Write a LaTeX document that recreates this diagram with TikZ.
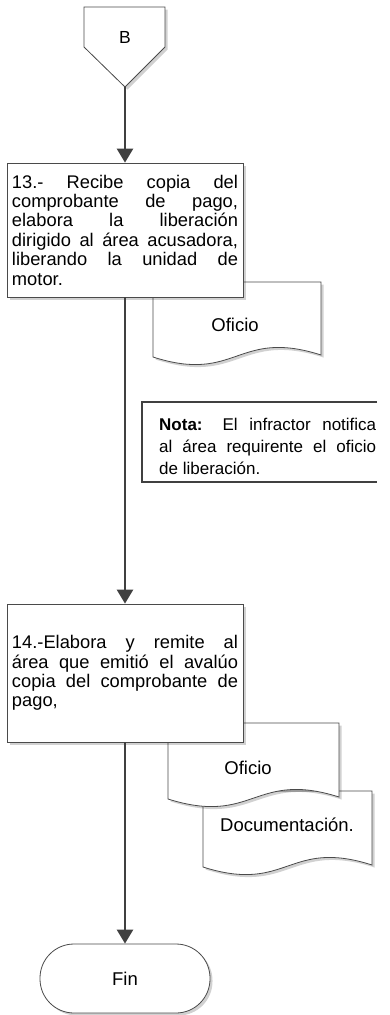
\documentclass[tikz,border=0pt]{standalone}
\usepackage{fontspec}
\setmainfont{Liberation Sans}
\usetikzlibrary{arrows.meta,shadows}
\definecolor{linegray}{HTML}{4A4A4A}
\definecolor{flowgray}{HTML}{404040}
\hyphenpenalty=10000
\exhyphenpenalty=10000
\tolerance=10000
\begin{document}
\begin{tikzpicture}[x=1pt,y=-1pt,
  shp/.style={draw=linegray, line width=0.8pt, fill=white,
    drop shadow={shadow xshift=2.5pt, shadow yshift=-2.5pt, fill=black, opacity=0.18}},
  proc/.style={shp, rectangle, minimum width=236pt, text width=226pt, inner sep=5pt,
    align=justify, font=\fontsize{18.3}{19.4}\selectfont},
  lbl/.style={inner sep=0pt, font=\fontsize{18.5}{20}\selectfont},
  flow/.style={draw=flowgray, line width=2.6pt, -{Triangle[length=14pt,width=16pt]}},
  notebr/.style={draw=flowgray, line width=1.4pt}
]
\useasboundingbox (0,0) rectangle (389,1015);

% off-page connector B
\filldraw[shp] (84,7) -- (165,7) -- (165,47) -- (125,87) -- (84,47) -- cycle;
\node[lbl, font=\fontsize{17.5}{19}\selectfont] (B) at (125,37) {B};
\coordinate (Bpt) at (125,87);

% document Oficio 1 (behind box 13)
\filldraw[shp] (153,282) -- (321,282) -- (321,355)
  .. controls (237,328) and (237,384) .. (153,357) -- cycle;
\node[lbl] (of1) at (235,325) {Oficio};

% box 13
\node[proc, minimum height=134pt] (b13) at (125,230)
 {13.- Recibe copia del\linebreak comprobante de pago,\linebreak elabora la liberación\linebreak dirigido al área acusadora,\linebreak liberando la unidad de\linebreak motor.};

% note
\draw[notebr] (377,402) -- (142,402) -- (142,482) -- (377,482);
\node[inner sep=0pt, text width=217pt, align=justify, anchor=base west,
  font=\fontsize{17}{21.8}\selectfont] (nota) at (159,430.5)
 {\textbf{Nota:} El infractor notifica\linebreak al área requirente el oficio\linebreak de liberación.};

% Documentación (behind Oficio 2)
\filldraw[shp] (203,791) -- (372,791) -- (372,865)
  .. controls (288,838) and (288,894) .. (203,867) -- cycle;
\node[lbl] (doc) at (287,825) {Documentación.};

% Oficio 2 (behind box 14)
\filldraw[shp] (168,723) -- (339,723) -- (339,797)
  .. controls (254,770) and (254,826) .. (168,799) -- cycle;
\node[lbl] (of2) at (248,768) {Oficio};

% box 14
\node[proc, minimum height=138pt] (b14) at (125,673)
 {14.-Elabora y remite al\linebreak área que emitió el avalúo\linebreak copia del comprobante de\linebreak pago,};

% terminal Fin
\node[shp, rectangle, rounded corners=34pt, minimum width=170pt, minimum height=69pt,
  inner sep=0pt, font=\fontsize{18.5}{20}\selectfont] (fin) at (125,978.5) {Fin};

% connectors
\draw[flow] (Bpt) -- (b13.north);
\draw[flow] (b13.south) -- (b14.north);
\draw[flow] (b14.south) -- (fin.north);
\end{tikzpicture}
\end{document}
